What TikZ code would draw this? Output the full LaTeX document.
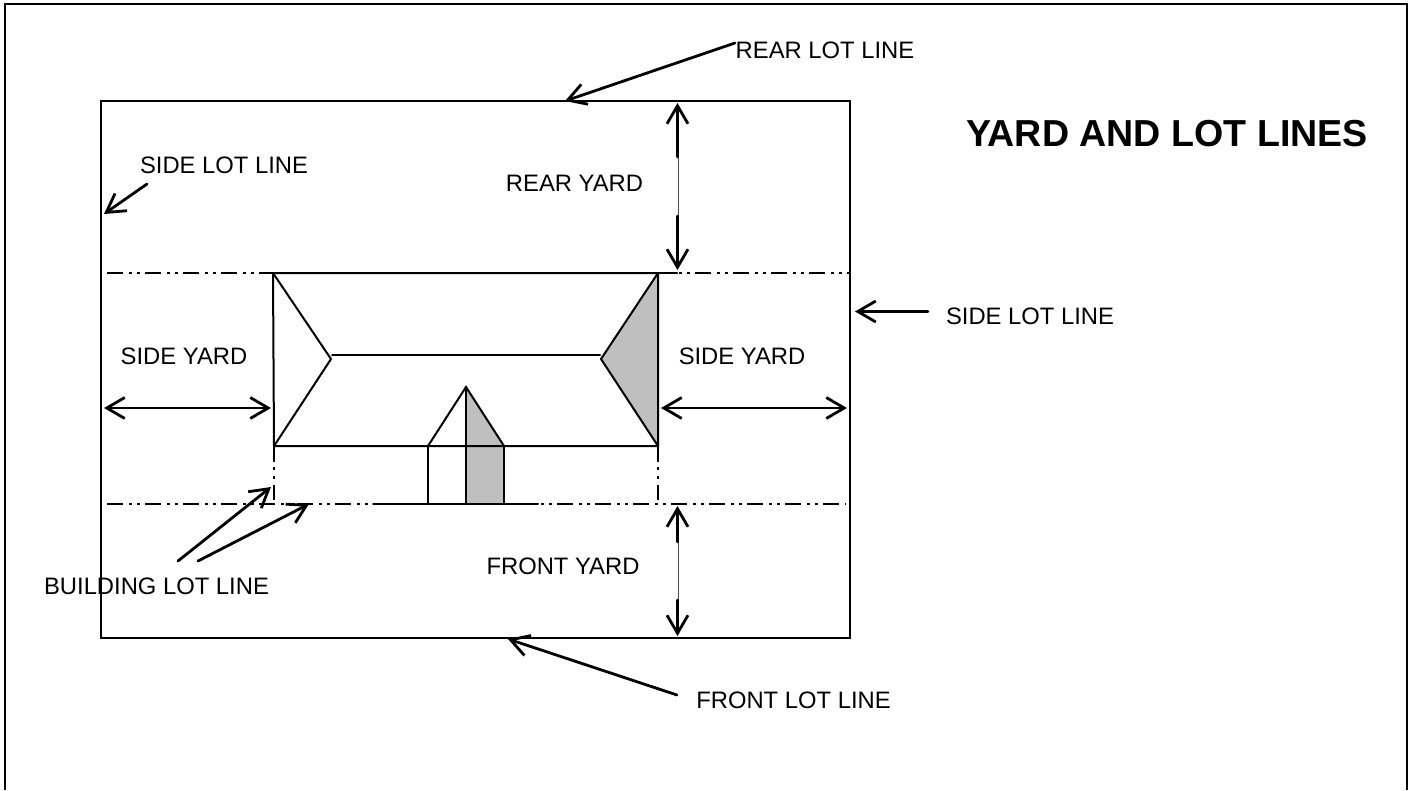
\documentclass[tikz,border=0pt]{standalone}
\usepackage{fontspec}
\setmainfont{Liberation Sans}
\usetikzlibrary{arrows.meta}
\tikzset{
  ln/.style={line width=2pt,black,line cap=round},
  thin seg/.style={line width=1pt,black!70},
  dd/.style={line width=2pt,black,dash pattern=on 16pt off 6pt on 2.5pt off 5.5pt on 2.5pt off 5.5pt},
  arr/.style={line width=2.8pt,black,line cap=round,-{Straight Barb[length=18pt,width=21pt,line width=2.8pt]}},
  dbl/.style={line width=2.8pt,black,line cap=round,{Straight Barb[length=18pt,width=21pt,line width=2.8pt]}-{Straight Barb[length=18pt,width=21pt,line width=2.8pt]}},
  lab/.style={anchor=center,inner sep=0pt,font=\fontsize{23.8pt}{26pt}\selectfont,text=black},
  ttl/.style={anchor=center,inner sep=0pt,font=\fontsize{37.6pt}{40pt}\selectfont\bfseries,text=black},
  shade/.style={fill=black!25,draw=none},
}
\begin{document}
\begin{tikzpicture}[x=1pt,y=-1pt]
\useasboundingbox (0,0) rectangle (1413,790);
\fill[white] (0,0) rectangle (1413,790);
% outer frame (open at the foot)
\draw[ln,line cap=butt,line width=2.3pt] (5,790) -- (5,4) -- (1407,4) -- (1407,790);
% lot
\draw[ln,line join=miter] (101,100.5) rectangle (850,637.5);
% grey faces
\fill[shade] (658,273) -- (601,359) -- (658,446) -- cycle;
\fill[shade] (466,387) -- (504,446) -- (504,504) -- (466,504) -- cycle;
% building
\coordinate (tl) at (273,273);
\coordinate (tr) at (658,273);
\coordinate (bl) at (274,446);
\coordinate (br) at (658,446);
\coordinate (al) at (331,359);
\coordinate (ar) at (601,359);
\draw[ln] (tl) -- (tr) -- (br) -- (bl) -- cycle;
\draw[ln] (tl) -- (al) -- (bl);
\draw[ln] (tr) -- (ar) -- (br);
\draw[ln] (332,355) -- (600,355);
% dormer
\coordinate (da) at (466,387);
\coordinate (dl) at (428,446);
\coordinate (dr) at (504,446);
\draw[ln] (dl) -- (da) -- (dr);
\draw[ln] (dl) -- (428,504);
\draw[ln] (da) -- (466,504);
\draw[ln] (dr) -- (504,504);
% building lines
\draw[dd] (107,273) -- (273,273);
\draw[ln] (658,273) -- (677,273);
\draw[dd,dash phase=22pt] (679,273) -- (850,273);
\draw[dd] (107,504) -- (373,504);
\draw[ln] (373,504) -- (538,504);
\draw[dd,dash phase=22pt] (541,504) -- (846,504);
\draw[line width=2.5pt,dash pattern=on 16pt off 5pt on 2.5pt off 6.5pt on 2.5pt off 6.5pt on 16pt off 100pt] (274,446) -- (274,500);
\draw[line width=2.5pt,dash pattern=on 16pt off 5pt on 2.5pt off 6.5pt on 2.5pt off 6.5pt on 16pt off 100pt] (658,446) -- (658,500);
% dimension arrows
\coordinate (sl1) at (104,408);
\coordinate (sl2) at (271,408);
\draw[dbl] (sl1) -- (sl2);
\coordinate (sr1) at (661,408);
\coordinate (sr2) at (847,408);
\draw[dbl] (sr1) -- (sr2);
\coordinate (ry1) at (677.5,103);
\coordinate (ry2) at (677.5,270);
\draw[thin seg] (678,155) -- (678,218);
\draw[arr] (677.5,157) -- (ry1);
\draw[arr] (677.5,216) -- (ry2);
\coordinate (fy1) at (677.5,506);
\coordinate (fy2) at (677.5,636);
\draw[thin seg] (678,540) -- (678,602);
\draw[arr] (677.5,542) -- (fy1);
\draw[arr] (677.5,600) -- (fy2);
% labels
\node[lab] (rearlot) at (825,50) {REAR LOT LINE};
\node[lab] (sidelot1) at (224,165) {SIDE LOT LINE};
\node[lab] (rearyard) at (574.5,183) {REAR YARD};
\node[ttl] (title) at (1167,134) {YARD AND LOT LINES};
\node[lab] (sidelot2) at (1030,316) {SIDE LOT LINE};
\node[lab] (sideyard1) at (184,356) {SIDE YARD};
\node[lab] (sideyard2) at (742,356) {SIDE YARD};
\node[lab] (frontyard) at (563,566) {FRONT YARD};
\node[lab] (buildlot) at (156.5,586) {BUILDING LOT LINE};
\node[lab] (frontlot) at (793.5,700) {FRONT LOT LINE};
% leader arrows
\coordinate (a1) at (735,43);
\coordinate (t1) at (565,101);
\draw[arr] (a1) -- (t1);
\coordinate (a2) at (147,184);
\coordinate (t2) at (104,214);
\draw[arr] (a2) -- (t2);
\coordinate (a3) at (928,311.5);
\coordinate (t3) at (855,311.5);
\draw[arr] (a3) -- (t3);
\coordinate (a4) at (677,695);
\coordinate (t4) at (508,639);
\draw[arr] (a4) -- (t4);
\coordinate (a5) at (178,561);
\coordinate (t5) at (271,487);
\draw[arr] (a5) -- (t5);
\coordinate (a6) at (198,561);
\coordinate (t6) at (309,504);
\draw[arr] (a6) -- (t6);
\end{tikzpicture}
\end{document}
